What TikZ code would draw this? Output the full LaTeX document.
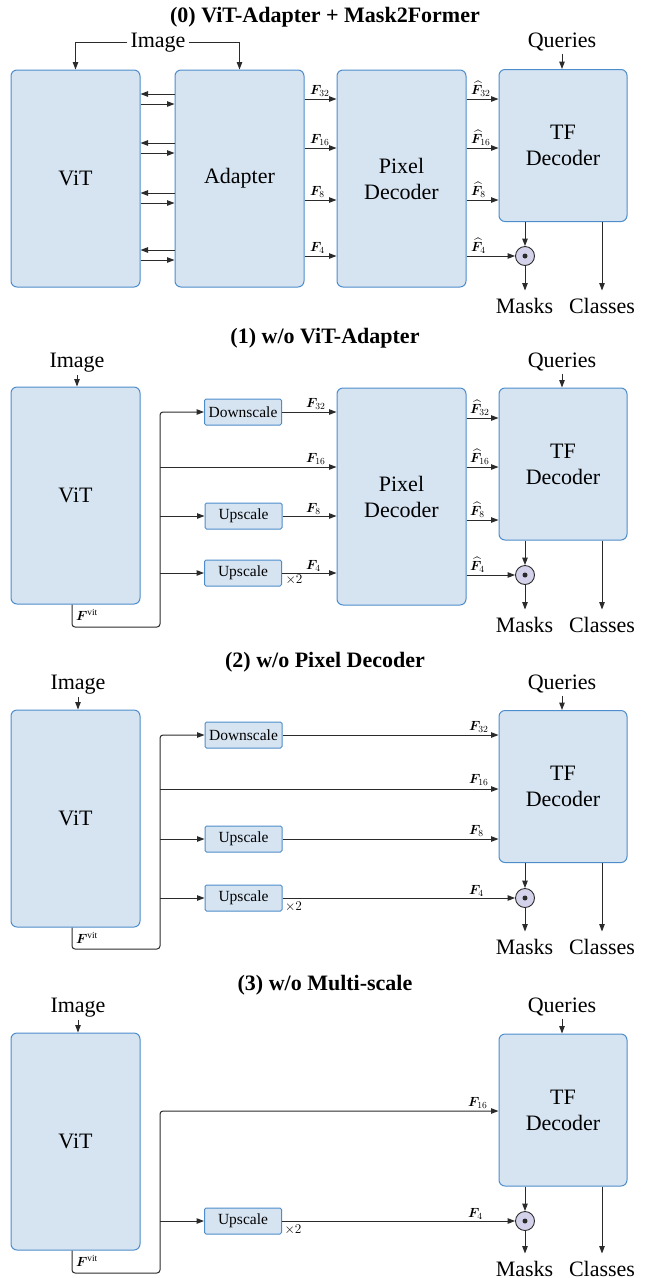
\RequirePackage{fix-cm}
\documentclass[tikz,border=0pt]{standalone}
\usepackage{amsmath}
\usepackage{bm}
\usepackage{fontspec}
\setmainfont{Liberation Serif}
\usetikzlibrary{arrows.meta}
\definecolor{boxfill}{HTML}{D6E4F2}
\definecolor{boxline}{HTML}{4E8DCB}
\definecolor{dotfill}{HTML}{D4D2EA}
\definecolor{linecol}{HTML}{2B2B2B}
\newcommand\lab{\fontsize{22}{26}\selectfont}
\newcommand\slab{\fontsize{15.5}{18}\selectfont}
\newcommand\mlab{\fontsize{13.3}{16}\selectfont}
\begin{document}
\begin{tikzpicture}[x=1pt,y=-1pt,
 box/.style={draw=boxline, fill=boxfill, line width=1pt, rounded corners=6pt, inner sep=0pt, align=center, font=\lab},
 big/.style={box, minimum width=129pt, minimum height=217pt},
 tfb/.style={box, minimum width=128pt, minimum height=152pt},
 sbox/.style={draw=boxline, fill=boxfill, line width=1pt, rounded corners=1.5pt, inner sep=0pt, minimum width=77pt, minimum height=26pt, font=\slab},
 txt/.style={font=\lab, inner sep=3pt, anchor=base},
 outl/.style={font=\lab, inner sep=7pt, anchor=base},
 ttl/.style={font=\lab\bfseries, inner sep=0pt, anchor=base},
 arr/.style={draw=linecol, line width=1pt, -{Triangle[length=7.5pt,width=5.5pt]}},
 fl/.style={font=\mlab, inner sep=0pt, anchor=base west},
 xl/.style={font=\mlab, inner sep=0pt},
 odot/.style={circle, draw=linecol, fill=dotfill, line width=0.9pt, minimum size=19pt, inner sep=0pt},
]
\useasboundingbox (0,0) rectangle (649,1278);

% ---------------- Panel 0 ----------------
\node[ttl] (t0) at (325,22) {(0) ViT-Adapter + Mask2Former};
\node[big] (vit0) at (75.5,178.5) {ViT};
\node[big] (ad0) at (239.5,178.5) {Adapter};
\node[big] (pd0) at (401.5,178.5) {Pixel\\Decoder};
\node[tfb] (tf0) at (563,145.5) {TF\\Decoder};
\node[txt] (img0) at (158,47) {Image};
\draw[arr] (img0.west) -| (vit0.north);
\draw[arr] (img0.east) -| (ad0.north);
\node[txt] (q0) at (562,47) {Queries};
\draw[arr] (q0.south) -- (q0.south |- tf0.north);
\foreach \y in {94,143,193,250} \draw[arr] (ad0.west |- 0,\y) -- (vit0.east |- 0,\y);
\foreach \y in {104,153,203,260} \draw[arr] (vit0.east |- 0,\y) -- (ad0.west |- 0,\y);
\foreach \y/\s in {99/32,148/16,200/8,256/4} {
  \draw[arr] (ad0.east |- 0,\y) -- (pd0.west |- 0,\y);
  \node[fl] at (310,\y-5) {$\bm F_{\s}$};
}
\foreach \y/\s in {99/32,148/16,200/8} {
  \draw[arr] (pd0.east |- 0,\y) -- (tf0.west |- 0,\y);
  \node[fl] at (471,\y-5) {$\widehat{\bm F}_{\s}$};
}
\node[odot] (c0) at (525,256) {};
\fill[linecol] (c0) circle (2.5pt);
\draw[arr] (pd0.east |- c0) -- (c0.west);
\node[fl] at (471,251) {$\widehat{\bm F}_{4}$};
\draw[arr] (tf0.south -| c0) -- (c0.north);
\node[outl] (m0) at (524.5,313) {Masks};
\draw[arr] (c0.south) -- (c0.south |- m0.north);
\node[outl] (cl0) at (602,313) {Classes};
\draw[arr] (tf0.south -| cl0) -- (cl0.north);

% ---------------- Panel 1 ----------------
\node[ttl] (t1) at (325,343) {(1) w/o ViT-Adapter};
\node[big] (vit1) at (75.5,495.5) {ViT};
\node[big] (pd1) at (401.5,496.5) {Pixel\\Decoder};
\node[tfb] (tf1) at (563,464) {TF\\Decoder};
\node[txt] (img1) at (77,367) {Image};
\draw[arr] (img1.south) -- (img1.south |- vit1.north);
\node[txt] (q1) at (562,367) {Queries};
\draw[arr] (q1.south) -- (q1.south |- tf1.north);
\node[sbox] (ds1) at (243,412) {Downscale};
\node[sbox] (ua1) at (243.5,516) {Upscale};
\node[sbox] (ub1) at (243,573) {Upscale};
\draw[arr, rounded corners=3pt] (vit1.south -| 72,0) -- (72,627) -- (160,627) -- (160,412) -- (ds1.west);
\draw[arr] (160,467) -- (pd1.west |- 0,467);
\draw[arr] (160,516) -- (ua1.west);
\draw[arr] (160,573) -- (ub1.west);
\draw[arr] (ds1.east) -- (pd1.west |- ds1.east);
\draw[arr] (ua1.east) -- (pd1.west |- ua1.east);
\draw[arr] (ub1.east) -- (pd1.west |- ub1.east);
\node[fl] at (306,407) {$\bm F_{32}$};
\node[fl] at (306,462) {$\bm F_{16}$};
\node[fl] at (306,512) {$\bm F_{8}$};
\node[fl] at (306,569) {$\bm F_{4}$};
\node[xl] at (294,580) {$\times 2$};
\node[fl] at (76,620) {$\bm F^{\mathrm{vit}}$};
\foreach \y/\s in {418/32,467/16,520/8} {
  \draw[arr] (pd1.east |- 0,\y) -- (tf1.west |- 0,\y);
  \node[fl] at (470,\y-5) {$\widehat{\bm F}_{\s}$};
}
\node[odot] (c1) at (525,575) {};
\fill[linecol] (c1) circle (2.5pt);
\draw[arr] (pd1.east |- c1) -- (c1.west);
\node[fl] at (470,570) {$\widehat{\bm F}_{4}$};
\draw[arr] (tf1.south -| c1) -- (c1.north);
\node[outl] (m1) at (524.5,632) {Masks};
\draw[arr] (c1.south) -- (c1.south |- m1.north);
\node[outl] (cl1) at (602,632) {Classes};
\draw[arr] (tf1.south -| cl1) -- (cl1.north);

% ---------------- Panel 2 ----------------
\node[ttl] (t2) at (325,667) {(2) w/o Pixel Decoder};
\node[big] (vit2) at (75.5,818.5) {ViT};
\node[tfb] (tf2) at (563,786.5) {TF\\Decoder};
\node[txt] (img2) at (78,689) {Image};
\draw[arr] (img2.south) -- (img2.south |- vit2.north);
\node[txt] (q2) at (562,689) {Queries};
\draw[arr] (q2.south) -- (q2.south |- tf2.north);
\node[sbox] (ds2) at (243.5,735) {Downscale};
\node[sbox] (ua2) at (243.5,839) {Upscale};
\node[sbox] (ub2) at (243.5,898) {Upscale};
\draw[arr, rounded corners=3pt] (vit2.south -| 72,0) -- (72,949) -- (160,949) -- (160,735) -- (ds2.west);
\draw[arr] (160,789) -- (tf2.west |- 0,789);
\draw[arr] (160,839) -- (ua2.west);
\draw[arr] (160,898) -- (ub2.west);
\draw[arr] (ds2.east) -- (tf2.west |- ds2.east);
\draw[arr] (ua2.east) -- (tf2.west |- ua2.east);
\node[odot] (c2) at (525,898) {};
\fill[linecol] (c2) circle (2.5pt);
\draw[arr] (ub2.east) -- (c2.west);
\node[fl] at (469,730) {$\bm F_{32}$};
\node[fl] at (469,783) {$\bm F_{16}$};
\node[fl] at (469,834) {$\bm F_{8}$};
\node[fl] at (469,894) {$\bm F_{4}$};
\node[xl] at (293.5,907) {$\times 2$};
\node[fl] at (76,943) {$\bm F^{\mathrm{vit}}$};
\draw[arr] (tf2.south -| c2) -- (c2.north);
\node[outl] (m2) at (524.5,954) {Masks};
\draw[arr] (c2.south) -- (c2.south |- m2.north);
\node[outl] (cl2) at (602,954) {Classes};
\draw[arr] (tf2.south -| cl2) -- (cl2.north);

% ---------------- Panel 3 ----------------
\node[ttl] (t3) at (325,990) {(3) w/o Multi-scale};
\node[big] (vit3) at (75.5,1141.5) {ViT};
\node[tfb] (tf3) at (563,1110) {TF\\Decoder};
\node[txt] (img3) at (78,1012) {Image};
\draw[arr] (img3.south) -- (img3.south |- vit3.north);
\node[txt] (q3) at (562,1012) {Queries};
\draw[arr] (q3.south) -- (q3.south |- tf3.north);
\node[sbox] (ua3) at (243,1221) {Upscale};
\draw[arr, rounded corners=3pt] (vit3.south -| 72,0) -- (72,1273) -- (160,1273) -- (160,1111) -- (tf3.west |- 0,1111);
\draw[arr] (160,1221) -- (ua3.west);
\node[odot] (c3) at (525,1221) {};
\fill[linecol] (c3) circle (2.5pt);
\draw[arr] (ua3.east) -- (c3.west);
\node[fl] at (468,1106) {$\bm F_{16}$};
\node[fl] at (468,1217) {$\bm F_{4}$};
\node[xl] at (293,1229.5) {$\times 2$};
\node[fl] at (76,1266) {$\bm F^{\mathrm{vit}}$};
\draw[arr] (tf3.south -| c3) -- (c3.north);
\node[outl] (m3) at (524.5,1276) {Masks};
\draw[arr] (c3.south) -- (c3.south |- m3.north);
\node[outl] (cl3) at (602,1276) {Classes};
\draw[arr] (tf3.south -| cl3) -- (cl3.north);
\end{tikzpicture}
\end{document}
